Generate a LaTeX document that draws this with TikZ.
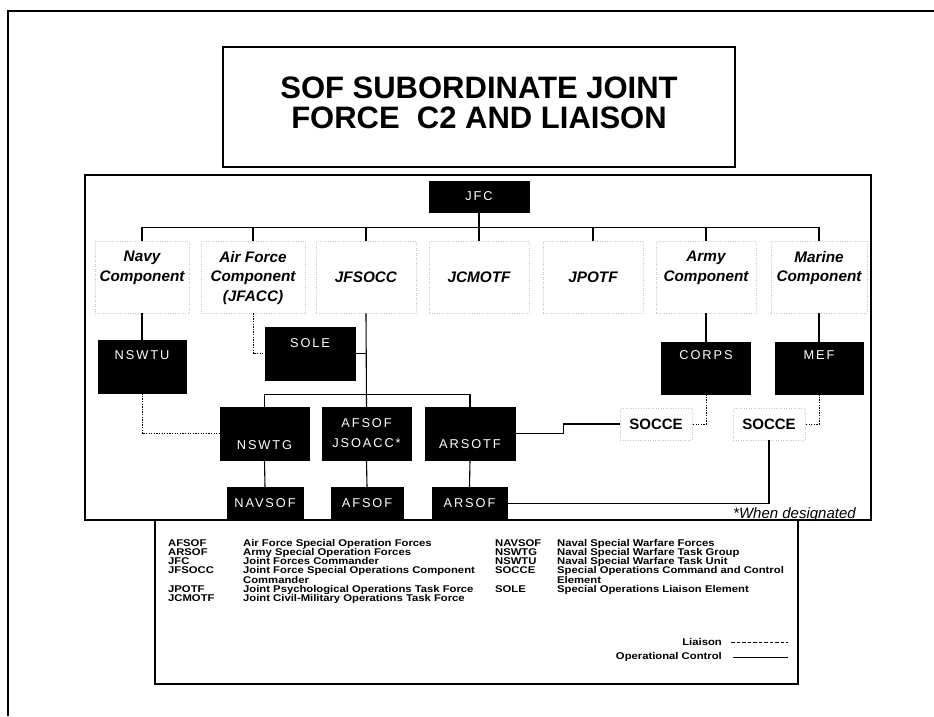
\documentclass[tikz,border=0pt]{standalone}
\usepackage{fontspec}
\setmainfont{Liberation Sans}
\newfontfamily\boxfont[LetterSpace=15]{Liberation Sans}
\newfontfamily\legfont[FakeStretch=1.15]{Liberation Sans}
\usetikzlibrary{calc}
\begin{document}
\lineskiplimit=-5pt
\begin{tikzpicture}[x=1pt,y=-1pt,
  blk/.style={fill=black,draw=black,inner sep=0pt},
  wt/.style={text=white,font=\boxfont\fontsize{12.8}{14}\selectfont,inner sep=0pt,align=center},
  comp/.style={draw=gray!45,dotted,line width=0.5pt,inner sep=0pt},
  ctxt/.style={font=\fontsize{15.3}{19.5}\selectfont\bfseries\itshape,align=center,inner sep=0pt},
  ctrl/.style={line width=1.1pt},
  liaison/.style={line width=0.9pt,dash pattern=on 1.3pt off 1.3pt},
  legtxt/.style={font=\legfont\bfseries\fontsize{9.8}{9.2}\selectfont,inner sep=0pt,align=left}]
\useasboundingbox (0,0) rectangle (934,716);
% outer frame (top and left only)
\draw[line width=2.5pt] (8,716) -- (8,11) -- (934,11);
% title
\node[draw,line width=1.5pt,minimum width=512,minimum height=120] (tbox) at (479,107) {};
\node[anchor=base,font=\fontsize{31}{31}\selectfont\bfseries,inner sep=0pt] (title1) at (479,98) {SOF SUBORDINATE JOINT};
\node[anchor=base,font=\fontsize{31}{31}\selectfont\bfseries,inner sep=0pt] (title2) at (479,128) {FORCE\ \ C2 AND LIAISON};
% inner frame
\draw[line width=1.2pt] (85,175) rectangle (871,520);
\draw[line width=2.6pt] (85,520) -- (871,520);
% JFC
\node[blk,minimum width=100,minimum height=31] (jfc) at (479,196.5) {};
\node[wt] (jfc-t) at (jfc.center) {JFC};
% component label boxes
\node[comp,minimum width=94,minimum height=72] (navy) at (142,277) {};
\node[comp,minimum width=104,minimum height=72] (af) at (253,277) {};
\node[comp,minimum width=100,minimum height=72] (jfsocc) at (366,277) {};
\node[comp,minimum width=100,minimum height=72] (jcmotf) at (479,277) {};
\node[comp,minimum width=100,minimum height=72] (jpotf) at (593,277) {};
\node[comp,minimum width=100,minimum height=72] (army) at (706,277) {};
\node[comp,minimum width=96,minimum height=72] (marine) at (819,277) {};
\node[ctxt] (navy-t) at (142,268) {Navy\\Component};
\node[ctxt] (af-t) at (253,278) {Air Force\\Component\\(JFACC)};
\node[ctxt] (jfsocc-t) at (366,277) {JFSOCC};
\node[ctxt] (jcmotf-t) at (479,277) {JCMOTF};
\node[ctxt] (jpotf-t) at (593,277) {JPOTF};
\node[ctxt] (army-t) at (706,268) {Army\\Component};
\node[ctxt] (marine-t) at (819,268) {Marine\\Component};
% bus
\draw[ctrl] (navy.north) -- ++(0,-13) -| (marine.north);
\foreach \n in {af,jfsocc,jpotf,army} \draw[ctrl] (\n.north) -- ++(0,-13);
\draw[ctrl] (jfc.south) -- (jcmotf.north);
% second level boxes
\node[blk,minimum width=88,minimum height=53] (nswtu) at (142,366.5) {};
\node[wt] (nswtu-t) at ($(nswtu.north)+(0,15)$) {NSWTU};
\node[blk,minimum width=90,minimum height=53] (sole) at (310,353.5) {};
\node[wt] (sole-t) at ($(sole.north)+(0,16)$) {SOLE};
\node[blk,minimum width=89,minimum height=52] (corps) at (706,368) {};
\node[wt] (corps-t) at ($(corps.north)+(0,13)$) {CORPS};
\node[blk,minimum width=88,minimum height=52] (mef) at (819,368) {};
\node[wt] (mef-t) at ($(mef.north)+(0,13)$) {MEF};
% SOF task forces
\node[blk,minimum width=89,minimum height=53] (nswtg) at (264.5,433.5) {};
\node[wt] (nswtg-t) at ($(nswtg.north)+(0,38)$) {NSWTG};
\node[blk,minimum width=89,minimum height=53] (jsoacc) at (366.5,433.5) {};
\node[wt] (jsoacc-t) at ($(jsoacc.north)+(0,26)$) {AFSOF\\[6pt]JSOACC*};
\node[blk,minimum width=90,minimum height=53] (arsotf) at (470,433.5) {};
\node[wt] (arsotf-t) at ($(arsotf.north)+(0,37)$) {ARSOTF};
\node[blk,minimum width=76,minimum height=33] (navsof) at (265,503.5) {};
\node[wt] (navsof-t) at (navsof.center) {NAVSOF};
\node[blk,minimum width=72,minimum height=33] (afsof) at (367,503.5) {};
\node[wt] (afsof-t) at (afsof.center) {AFSOF};
\node[blk,minimum width=75,minimum height=33] (arsof) at (469.5,503.5) {};
\node[wt] (arsof-t) at (arsof.center) {ARSOF};
% SOCCEs
\node[comp,minimum width=72,minimum height=32,font=\fontsize{15}{15}\selectfont\bfseries] (socce1) at (656,424) {SOCCE};
\node[comp,minimum width=72,minimum height=32,font=\fontsize{15}{15}\selectfont\bfseries] (socce2) at (769,424) {SOCCE};
% operational control lines
\draw[ctrl] (navy.south) -- (nswtu.north);
\draw[ctrl] (jfsocc.south) -- (jsoacc.north);
\draw[ctrl] (sole.east) -- (sole.east -| jfsocc.south);
\draw[ctrl] (nswtg.north) -- ++(0,-12) -| (arsotf.north);
\draw[ctrl] (nswtg.south) -- (navsof.north);
\draw[ctrl] (jsoacc.south) -- (afsof.north);
\draw[ctrl] (arsotf.south) -- (arsof.north);
\draw[ctrl] (army.south) -- (corps.north);
\draw[ctrl] (marine.south) -- (mef.north);
\draw[ctrl] (arsotf.east) -- ++(48,0) |- (socce1.west);
\draw[ctrl] (socce2.south) |- (arsof.east);
% liaison lines
\draw[liaison] (af.south) |- (sole.west);
\draw[liaison] (nswtu.south) |- (nswtg.west);
\draw[liaison] (corps.south) |- (socce1.east);
\draw[liaison] (mef.south) |- (socce2.east);
% when designated
\node[anchor=base west,font=\fontsize{15}{15}\selectfont\itshape,inner sep=0pt] (whendes) at (733,518) {*When designated};
% legend
\draw[line width=1.4pt] (155,520) rectangle (798,684);
\node[legtxt,anchor=north west] (legLa) at (168,539) {AFSOF\\ARSOF\\JFC\\JFSOCC\\ \\JPOTF\\JCMOTF};
\node[legtxt,anchor=north west] (legLd) at (243,539) {Air Force Special Operation Forces\\Army Special Operation Forces\\Joint Forces Commander\\Joint Force Special Operations Component\\Commander\\Joint Psychological Operations Task Force\\Joint Civil-Military Operations Task Force};
\node[legtxt,anchor=north west] (legRa) at (495,539) {NAVSOF\\NSWTG\\NSWTU\\SOCCE\\ \\SOLE};
\node[legtxt,anchor=north west] (legRd) at (557,539) {Naval Special Warfare Forces\\Naval Special Warfare Task Group\\Naval Special Warfare Task Unit\\Special Operations Command and Control\\Element\\Special Operations Liaison Element};
\node[legtxt,anchor=east] (liais) at (722,642) {Liaison};
\node[legtxt,anchor=east] (opc) at (722,657) {Operational Control};
\coordinate (l1) at (731,642);
\coordinate (l2) at (788,642);
\coordinate (o1) at (733,657);
\coordinate (o2) at (788,657);
\draw[line width=0.9pt,dash pattern=on 3.5pt off 2pt] (l1) -- (l2);
\draw[line width=1pt] (o1) -- (o2);
\end{tikzpicture}
\end{document}
